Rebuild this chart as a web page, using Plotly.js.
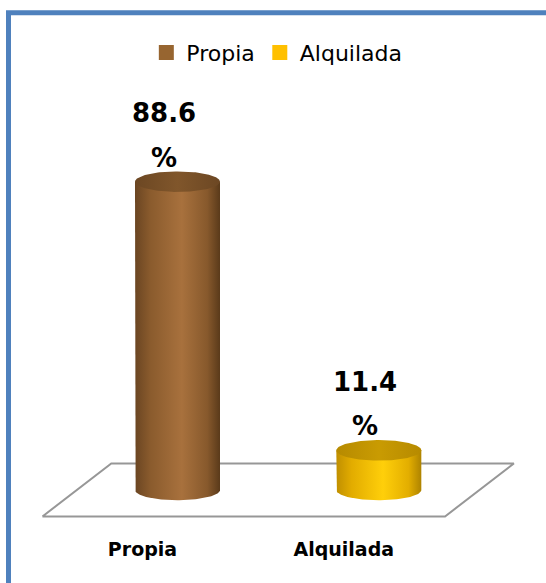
<!DOCTYPE html>
<html>
<head>
<meta charset="utf-8">
<script src="https://cdn.plot.ly/plotly-3.0.1.min.js"></script>
<style>
  html, body { margin: 0; padding: 0; background: #fff; }
  #chart { width: 546px; height: 583px; }
</style>
</head>
<body>
<div id="chart"></div>
<script>
// ---- data ----
const categories = ['Propia', 'Alquilada'];
const values = [88.6, 11.4];
const valueLabels = ['88.6', '11.4'];
const unitLabels = ['%', '%'];

// ---- styles ----
const legendColors = ['#976530', '#FFC000'];
const bodyScales = [
  [[0, '#6A4522'], [0.18, '#8A5B2D'], [0.55, '#A8713D'], [0.85, '#87592C'], [1, '#5A3A1A']],
  [[0, '#C08F00'], [0.18, '#E2AC00'], [0.55, '#FFCF0A'], [0.85, '#E3AE00'], [1, '#AE8300']]
];
const topScales = [
  [[0, '#6C4723'], [0.5, '#80562B'], [1, '#6C4723']],
  [[0, '#B68A00'], [0.5, '#C99B02'], [1, '#B68A00']]
];

// geometry (in axis units)
const R = 0.2112;     // cylinder radius along x
const RY = 2.95;      // ellipse radius along y
const DX = 0.171, DY = 7.6; // floor depth offsets
const N = 72;

const traces = [];

// floor
traces.push({
  type: 'scatter', mode: 'lines', hoverinfo: 'skip', showlegend: false,
  x: [-0.5 - DX, 1.5 - DX, 1.5 + DX, -0.5 + DX, -0.5 - DX],
  y: [-DY, -DY, DY, DY, -DY],
  line: { color: '#979797', width: 2 }
});

categories.forEach((c, i) => {
  const v = values[i];
  // body
  const bx = [i - R, i - R], by = [v, 0];
  for (let k = 0; k <= N; k++) {
    const t = Math.PI + Math.PI * k / N;
    bx.push(i + R * Math.cos(t)); by.push(RY * Math.sin(t));
  }
  bx.push(i + R, i - R); by.push(v, v);
  traces.push({
    type: 'scatter', mode: 'lines', x: bx, y: by, fill: 'toself',
    fillgradient: { type: 'horizontal', colorscale: bodyScales[i] },
    line: { width: 0 }, hoverinfo: 'skip', showlegend: false
  });
  // top ellipse
  const tx = [], ty = [];
  for (let k = 0; k <= 2 * N; k++) {
    const t = 2 * Math.PI * k / (2 * N);
    tx.push(i + R * Math.cos(t)); ty.push(v + RY * Math.sin(t));
  }
  traces.push({
    type: 'scatter', mode: 'lines', x: tx, y: ty, fill: 'toself',
    fillgradient: { type: 'horizontal', colorscale: topScales[i] },
    line: { width: 0 }, hoverinfo: 'skip', showlegend: false
  });
});

// legend entries
categories.forEach((c, i) => {
  traces.push({
    type: 'scatter', mode: 'markers', name: c, x: [null], y: [null],
    marker: { symbol: 'square', size: 15, color: legendColors[i] }
  });
});

const annotations = [];
categories.forEach((c, i) => {
  annotations.push({
    x: i, y: values[i], xref: 'x', yref: 'y', text: valueLabels[i],
    showarrow: false, xshift: -13.5, yshift: 68.5, yanchor: 'middle',
    font: { family: 'DejaVu Sans', size: 26, weight: 'bold', color: '#000' }
  });
  annotations.push({
    x: i, y: values[i], xref: 'x', yref: 'y', text: unitLabels[i],
    showarrow: false, xshift: -13.5, yshift: 24, yanchor: 'middle',
    font: { family: 'DejaVu Sans', size: 26, weight: 'bold', color: '#000' }
  });
});

const layout = {
  width: 546, height: 583,
  margin: { l: 0, r: 0, t: 0, b: 53, pad: 0 },
  paper_bgcolor: '#ffffff', plot_bgcolor: '#ffffff',
  showlegend: true,
  xaxis: {
    range: [-0.8818, 1.8306], fixedrange: true, showgrid: false, zeroline: false,
    showline: false, tickmode: 'array', tickvals: [0, 1], ticktext: categories,
    ticks: '', ticklabelshift: -35, ticklabelstandoff: 6, automargin: false,
    tickfont: { family: 'DejaVu Sans', size: 19, weight: 'bold', color: '#000' }
  },
  yaxis: { range: [-11.49, 140.8], visible: false, fixedrange: true },
  legend: {
    orientation: 'h', x: 0.268, xanchor: 'left', y: 0.94, yanchor: 'top',
    font: { family: 'DejaVu Sans', size: 22, color: '#000' },
    bgcolor: 'rgba(0,0,0,0)', traceorder: 'normal'
  },
  annotations: annotations,
  shapes: [{
    type: 'rect', xref: 'paper', yref: 'paper',
    x0: 8.5 / 546, x1: 1.2, y0: -0.3, y1: 1 - 12.8 / 530,
    line: { color: '#4F81BD', width: 5 }, layer: 'above'
  }]
};

Plotly.newPlot('chart', traces, layout, { staticPlot: true, displayModeBar: false });
</script>
</body>
</html>
